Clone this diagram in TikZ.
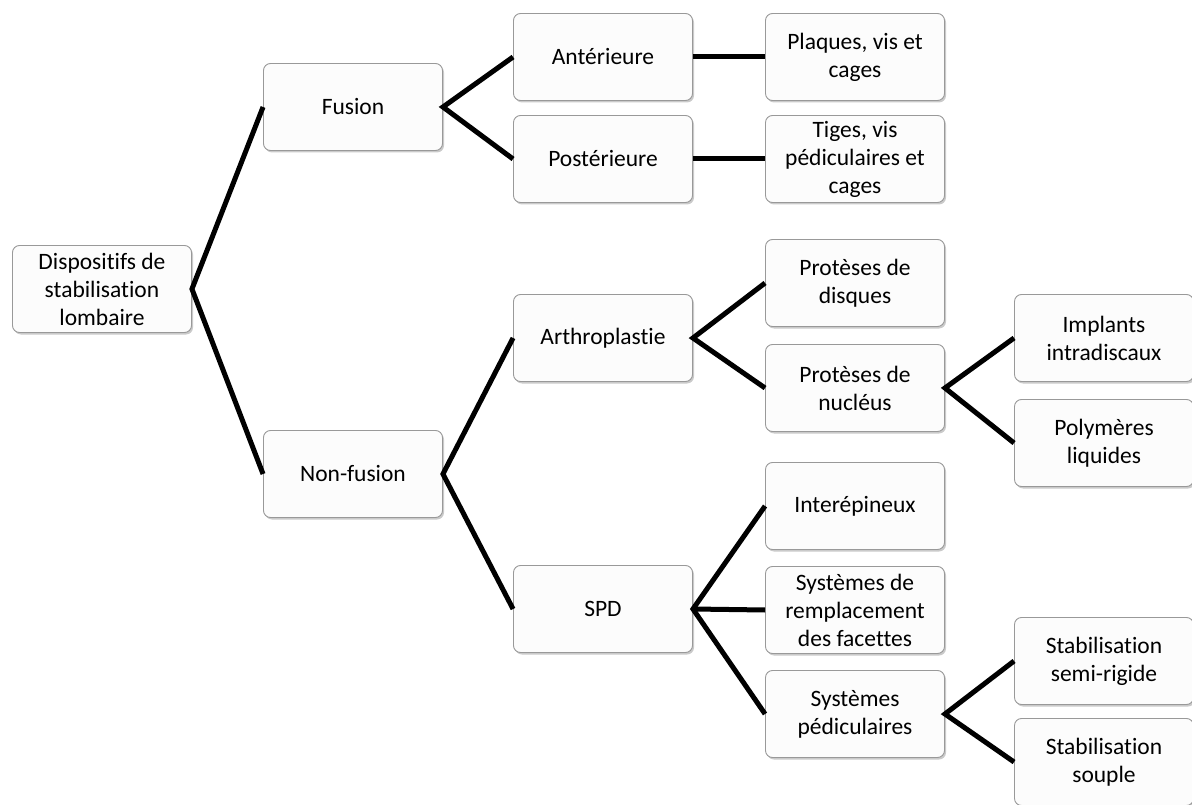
\documentclass[tikz,border=0pt]{standalone}
\usepackage{fontspec}
\setmainfont{Carlito}[Ligatures=NoCommon]
\usetikzlibrary{shadows}
\begin{document}
\begin{tikzpicture}[x=1pt,y=-1pt,
  box/.style={draw=black!40, line width=0.9pt, rounded corners=7pt, fill=black!1,
    minimum width=179pt, minimum height=87pt, align=center, inner sep=2pt,
    font=\fontsize{23.5}{28}\selectfont,
    drop shadow={shadow xshift=1.5pt, shadow yshift=-2pt, opacity=0.35, fill=black!60}},
  conn/.style={line width=5pt, black}]
\useasboundingbox (0,0) rectangle (1192,805);
\node[box] (root) at (102,289) {Dispositifs de\\stabilisation\\lombaire};
\node[box] (fusion) at (353,107) {Fusion};
\node[box] (nonfusion) at (353,474) {Non-fusion};
\node[box] (ant) at (603,57) {Antérieure};
\node[box] (post) at (603,159) {Postérieure};
\node[box] (plaques) at (855,57) {Plaques, vis et\\cages};
\node[box] (tiges) at (855,159) {Tiges, vis\\pédiculaires et\\cages};
\node[box] (arthro) at (603,338) {Arthroplastie};
\node[box] (spd) at (603,609) {SPD};
\node[box] (disques) at (855,283) {Protèses de\\disques};
\node[box] (nucleus) at (855,388) {Protèses de\\nucléus};
\node[box] (implants) at (1104,338) {Implants\\intradiscaux};
\node[box] (polym) at (1104,443) {Polymères\\liquides};
\node[box] (inter) at (855,506) {Interépineux};
\node[box] (facettes) at (855,610) {Systèmes de\\remplacement\\des facettes};
\node[box] (pedic) at (855,714) {Systèmes\\pédiculaires};
\node[box] (semi) at (1104,661) {Stabilisation\\semi-rigide};
\node[box] (souple) at (1104,762) {Stabilisation\\souple};
\draw[conn] (fusion.west) -- (root.east) -- (nonfusion.west);
\draw[conn] (ant.west) -- (fusion.east) -- (post.west);
\draw[conn] (ant.east) -- (plaques.west);
\draw[conn] (post.east) -- (tiges.west);
\draw[conn] (arthro.west) -- (nonfusion.east) -- (spd.west);
\draw[conn] (disques.west) -- (arthro.east) -- (nucleus.west);
\draw[conn] (implants.west) -- (nucleus.east) -- (polym.west);
\draw[conn] (inter.west) -- (spd.east) -- (pedic.west);
\draw[conn] (spd.east) -- (facettes.west);
\draw[conn] (semi.west) -- (pedic.east) -- (souple.west);
\end{tikzpicture}
\end{document}
